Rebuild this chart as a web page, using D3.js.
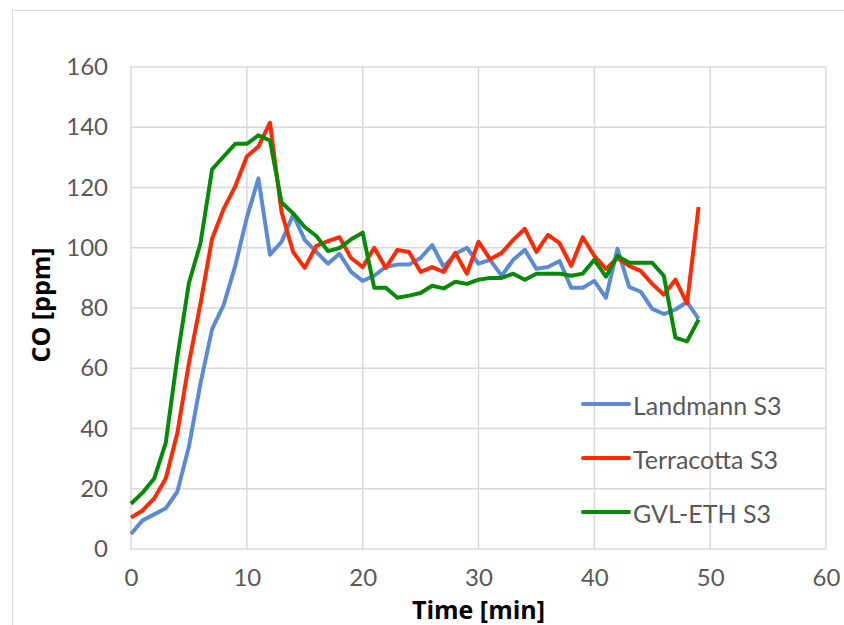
<!DOCTYPE html>
<meta charset="utf-8">
<style>
body { margin: 0; background: #fff; }
text { font-family: Lato, "Open Sans", sans-serif; }
.tick text { fill: #595959; font-size: 24px; }
.grid line { stroke: #d9d9d9; stroke-width: 1.5px; }
.series { fill: none; stroke-width: 4px; stroke-linejoin: round; }
.title { font-family: "Open Sans", sans-serif; font-weight: bold; font-size: 25px; fill: #000; }
</style>
<svg width="844" height="625"></svg>
<script src="https://d3js.org/d3.v7.min.js"></script>
<script>
// minutes 0..49, CO in ppm
var minutes = d3.range(0, 50);
var landmann = [5, 9.5, 11.5, 13.5, 19, 34, 55, 73, 81, 94,
  110, 123, 97.7, 102, 111, 102.6, 98.6, 94.7, 98, 92,
  89, 90.7, 93.7, 94.4, 94.4, 96.6, 100.9, 93.6, 98, 100,
  94.7, 96, 90.7, 96, 99.3, 93, 93.6, 95.6, 86.7, 86.7,
  89, 83.4, 99.7, 87, 85.4, 79.7, 78, 79.5, 82, 76.4];
var terracotta = [10.4, 12.8, 16.8, 23.4, 38.5, 61.7, 81.5, 103, 112.9, 120.4,
  130.3, 133.6, 141.5, 111.8, 98.6, 93.3, 100.6, 102.2, 103.5, 96.6,
  93.6, 100, 93.3, 99.3, 98.6, 92, 93.6, 92, 98.3, 91.4,
  102, 96.2, 98.3, 102.6, 106.3, 98.6, 104.3, 101.5, 94, 103.5,
  97.3, 93, 96.6, 94, 92.3, 88, 84.4, 89.4, 81.5, 113.5];
var gvlEth = [15, 18.7, 23.4, 35.2, 63.6, 88.3, 101.5, 126, 130.3, 134.5,
  134.5, 137.3, 135.6, 115, 111.4, 106.9, 103.9, 98.9, 99.9, 102.8,
  105, 86.7, 86.7, 83.4, 84.1, 85, 87.4, 86.5, 88.7, 88,
  89.4, 90, 90, 91.4, 89.4, 91.4, 91.4, 91.4, 90.7, 91.4,
  96, 90.4, 97.3, 95, 95, 95, 90.7, 70.2, 68.9, 76.2];
var seriesNames = ["Landmann S3", "Terracotta S3", "GVL-ETH S3"];
var seriesColors = ["#5b8bd5", "#ff2a00", "#078a07"];
var xTicks = [0, 10, 20, 30, 40, 50, 60];
var yTicks = [0, 20, 40, 60, 80, 100, 120, 140, 160];

var svg = d3.select("svg");
var margin = {left: 131, right: 18, top: 67, bottom: 76};
var width = 844 - margin.left - margin.right,
    height = 625 - margin.top - margin.bottom;

// outer chart border
svg.append("rect")
    .attr("x", 12.5).attr("y", 10.5)
    .attr("width", 900).attr("height", 700)
    .attr("fill", "none").attr("stroke", "#d9d9d9").attr("stroke-width", 1);

var g = svg.append("g").attr("transform", "translate(" + margin.left + "," + margin.top + ")");

var x = d3.scaleLinear().domain([0, 60]).range([0, width]);
var y = d3.scaleLinear().domain([0, 160]).range([height, 0]);

// gridlines
g.append("g").attr("class", "grid")
    .selectAll("line").data(yTicks).enter().append("line")
    .attr("x1", 0).attr("x2", width)
    .attr("y1", function(d) { return y(d); }).attr("y2", function(d) { return y(d); });
g.append("g").attr("class", "grid")
    .selectAll("line").data(xTicks).enter().append("line")
    .attr("y1", 0).attr("y2", height)
    .attr("x1", function(d) { return x(d); }).attr("x2", function(d) { return x(d); });

// axes (labels only)
var xAxis = g.append("g").attr("transform", "translate(0," + height + ")")
    .call(d3.axisBottom(x).tickValues(xTicks).tickSize(0).tickPadding(20));
xAxis.select(".domain").remove();
var yAxis = g.append("g")
    .call(d3.axisLeft(y).tickValues(yTicks).tickSize(0).tickPadding(23));
yAxis.select(".domain").remove();
g.selectAll(".tick text").attr("font-family", null).attr("font-size", null);

// series
var allSeries = [landmann, terracotta, gvlEth];
var line = d3.line()
    .x(function(d, i) { return x(minutes[i]); })
    .y(function(d) { return y(d); });

g.selectAll(".series").data(allSeries).enter().append("path")
    .attr("class", "series")
    .attr("stroke", function(d, i) { return seriesColors[i]; })
    .attr("d", line);

// legend
var legend = svg.append("g").attr("transform", "translate(583,404)");
var item = legend.selectAll("g").data(seriesNames).enter().append("g")
    .attr("transform", function(d, i) { return "translate(0," + (i * 54) + ")"; });
item.append("line")
    .attr("x1", 0).attr("x2", 46).attr("y1", 0).attr("y2", 0)
    .attr("stroke", function(d, i) { return seriesColors[i]; })
    .attr("stroke-width", 4).attr("stroke-linecap", "round");
item.append("text")
    .attr("x", 50).attr("y", 2).attr("dy", "0.35em")
    .attr("fill", "#595959").style("font-size", "25px")
    .text(function(d) { return d; });

// axis titles
svg.append("text").attr("class", "title")
    .attr("x", margin.left + x(30)).attr("y", 619)
    .attr("text-anchor", "middle")
    .text("Time [min]");
svg.append("text").attr("class", "title")
    .attr("transform", "translate(50,305) rotate(-90)")
    .attr("text-anchor", "middle")
    .text("CO [ppm]");
</script>
